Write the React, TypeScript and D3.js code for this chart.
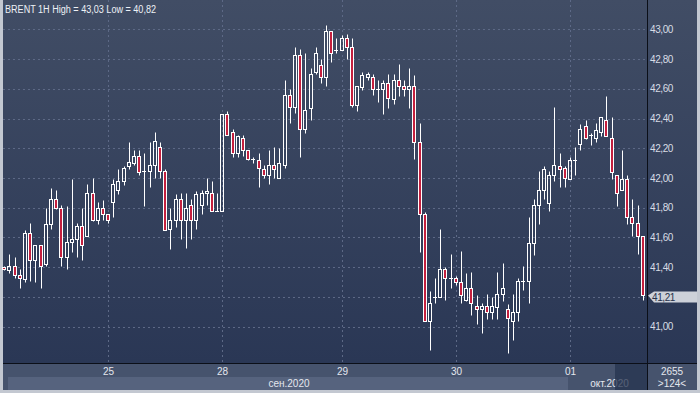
import React from 'react';
import * as d3 from 'd3';

// hourly BRENT candles (124 visible bars)
const opens = [
  41.40, 41.38, 41.41, 41.35, 41.32, 41.63, 41.45, 41.55, 41.42, 41.69,
  41.86, 41.80, 41.47, 41.57, 41.59, 41.68, 41.61, 41.90, 41.72, 41.80,
  41.76, 41.84, 41.92, 41.98, 42.08, 42.10, 42.15, 42.05, 42.05, 42.09,
  42.21, 42.05, 41.66, 41.72, 41.86, 41.72, 41.82, 41.72, 41.82, 41.90,
  41.90, 41.78, 41.78, 42.43, 42.31, 42.17, 42.27, 42.19, 42.13, 42.12,
  42.06, 42.02, 42.09, 42.00, 42.09, 42.56, 42.48, 42.83, 42.33, 42.47,
  42.71, 42.76, 42.68, 42.99, 42.86, 42.86, 42.94, 42.88, 42.49, 42.61,
  42.68, 42.68, 42.60, 42.60, 42.64, 42.53, 42.66, 42.62, 42.60, 42.62,
  42.24, 41.76, 41.04, 41.20, 41.20, 41.39, 41.33, 41.33, 41.30, 41.18,
  41.26, 41.14, 41.12, 41.14, 41.10, 41.13, 41.22, 41.12, 41.04, 41.10,
  41.31, 41.31, 41.56, 41.82, 41.92, 41.83, 42.02, 42.08, 42.07, 41.99,
  42.12, 42.23, 42.35, 42.29, 42.27, 42.31, 42.39, 42.27, 42.02, 41.92,
  41.99, 41.74, 41.70, 41.61,
];
const highs = [
  41.41, 41.49, 41.47, 41.39, 41.65, 41.70, 41.55, 41.55, 41.80, 41.93,
  41.92, 41.82, 41.81, 41.99, 41.70, 41.80, 41.96, 42.00, 41.84, 41.85,
  41.76, 41.99, 42.06, 42.08, 42.24, 42.19, 42.19, 42.17, 42.24, 42.31,
  42.24, 42.06, 41.80, 41.89, 41.90, 41.90, 41.86, 41.91, 41.92, 42.00,
  41.98, 41.90, 42.43, 42.45, 42.33, 42.29, 42.29, 42.19, 42.14, 42.17,
  42.09, 42.19, 42.21, 42.20, 42.66, 42.60, 42.88, 42.87, 42.84, 42.74,
  42.88, 42.80, 43.03, 42.99, 42.94, 42.96, 42.97, 42.94, 42.62, 42.71,
  42.71, 42.70, 42.66, 42.66, 42.70, 42.70, 42.77, 42.66, 42.74, 42.69,
  42.37, 41.77, 41.24, 41.33, 41.66, 41.40, 41.49, 41.34, 41.51, 41.36,
  41.37, 41.21, 41.16, 41.22, 41.20, 41.37, 41.43, 41.15, 41.22, 41.33,
  41.41, 41.74, 41.86, 42.05, 42.08, 42.05, 42.48, 42.17, 42.08, 42.14,
  42.21, 42.36, 42.39, 42.30, 42.37, 42.41, 42.55, 42.41, 42.02, 42.19,
  42.02, 41.86, 41.82, 41.61,
];
const lows = [
  41.38, 41.36, 41.33, 41.26, 41.30, 41.31, 41.30, 41.26, 41.41, 41.66,
  41.79, 41.41, 41.39, 41.50, 41.47, 41.45, 41.61, 41.71, 41.69, 41.72,
  41.70, 41.74, 41.89, 41.95, 42.06, 42.09, 42.02, 41.81, 41.94, 42.00,
  42.00, 41.65, 41.52, 41.67, 41.59, 41.53, 41.59, 41.66, 41.76, 41.82,
  41.78, 41.78, 41.78, 42.29, 42.14, 42.14, 42.15, 42.12, 42.10, 41.94,
  42.00, 41.96, 42.00, 42.00, 42.07, 42.37, 42.44, 42.14, 42.30, 42.39,
  42.70, 42.64, 42.62, 42.78, 42.84, 42.86, 42.80, 42.48, 42.45, 42.59,
  42.66, 42.56, 42.51, 42.43, 42.47, 42.50, 42.55, 42.55, 42.47, 42.13,
  41.50, 41.04, 40.84, 41.16, 41.20, 41.18, 41.26, 41.28, 41.16, 41.17,
  41.08, 41.02, 40.96, 41.05, 41.05, 41.05, 41.17, 40.82, 40.91, 41.04,
  41.25, 41.16, 41.48, 41.69, 41.86, 41.78, 41.98, 41.94, 41.94, 41.99,
  42.02, 42.19, 42.26, 42.22, 42.24, 42.28, 42.28, 41.99, 41.81, 41.92,
  41.69, 41.61, 41.49, 41.18,
];
const closes = [
  41.39, 41.41, 41.35, 41.33, 41.63, 41.45, 41.55, 41.41, 41.69, 41.86,
  41.80, 41.47, 41.57, 41.59, 41.68, 41.55, 41.90, 41.72, 41.80, 41.76,
  41.72, 41.96, 41.98, 42.07, 42.11, 42.15, 42.04, 42.05, 42.09, 42.25,
  42.05, 41.65, 41.72, 41.86, 41.72, 41.80, 41.72, 41.89, 41.90, 41.91,
  41.78, 41.78, 42.43, 42.29, 42.17, 42.28, 42.19, 42.13, 42.13, 42.07,
  42.02, 42.09, 42.06, 42.10, 42.56, 42.48, 42.83, 42.33, 42.46, 42.70,
  42.84, 42.68, 42.99, 42.84, 42.86, 42.94, 42.88, 42.49, 42.62, 42.69,
  42.70, 42.60, 42.60, 42.64, 42.54, 42.66, 42.62, 42.60, 42.62, 42.24,
  41.76, 41.04, 41.16, 41.20, 41.39, 41.33, 41.33, 41.30, 41.21, 41.26,
  41.16, 41.12, 41.14, 41.10, 41.14, 41.22, 41.26, 41.06, 41.10, 41.31,
  41.31, 41.56, 41.82, 41.92, 42.06, 42.02, 42.09, 42.06, 42.00, 42.12,
  42.12, 42.33, 42.27, 42.29, 42.32, 42.41, 42.28, 42.04, 41.90, 41.99,
  41.74, 41.70, 41.61, 41.21,
];

const priceTicks = [41.0, 41.2, 41.4, 41.6, 41.8, 42.0, 42.2, 42.4, 42.6, 42.8, 43.0];
const dayLabels = ['25', '28', '29', '30', '01'];
const dayBarIndex = [20, 42, 65, 87, 109];
const monthLabels = ['сен.2020', 'окт.2020'];
const title = 'BRENT 1H High = 43,03 Low = 40,82';
const lastPrice = '41,21';
const totalBars = '2655';
const shownBars = '>124<';

const FONT = '"Liberation Sans", Arial, sans-serif';
const RED = '#c41f3e';

const fmt = (v: number) => v.toFixed(2).replace('.', ',');
const px = (v: number) => Math.round(v) + 0.5;

export default function App() {
  const x = d3
    .scaleBand<number>()
    .domain(d3.range(opens.length))
    .range([1.7, 645.3]);
  const y = d3.scaleLinear().domain([41, 43]).range([326.7, 29.3]);
  const cx = (i: number) => Math.round((x(i) as number) + x.bandwidth() / 2);
  const lastY = y(closes[closes.length - 1]);

  return (
    <svg
      width={700}
      height={393}
      style={{ position: 'fixed', left: 0, top: 0 }}
      fontFamily={FONT}
    >
      <defs>
        <linearGradient id="bg" x1="0" y1="0" x2="0" y2="1">
          <stop offset="0" stopColor="#414d65" />
          <stop offset="1" stopColor="#2a3755" />
        </linearGradient>
      </defs>

      {/* frame */}
      <rect x={0} y={0} width={700} height={393} fill="#c3c8d1" />
      <rect x={3} y={0} width={694} height={363} fill="url(#bg)" />
      <rect x={3} y={363} width={694} height={27} fill="#46536d" />
      <rect x={8} y={377} width={560} height={13} fill="#56637e" />

      {/* grid */}
      {priceTicks.map((t) => (
        <line
          key={t}
          x1={3}
          x2={647}
          y1={px(y(t))}
          y2={px(y(t))}
          stroke="#5d6986"
          strokeDasharray="2,3"
        />
      ))}
      {dayBarIndex.map((i) => (
        <line
          key={i}
          x1={cx(i) + 0.5}
          x2={cx(i) + 0.5}
          y1={0}
          y2={363}
          stroke="#5d6986"
          strokeDasharray="2,3"
        />
      ))}

      {/* candles */}
      {opens.map((o, i) => {
        const c = closes[i];
        const xc = cx(i);
        const top = px(y(Math.max(o, c)));
        const bot = px(y(Math.min(o, c)));
        const hi = px(y(highs[i]));
        const lo = px(y(lows[i]));
        const down = c < o;
        return (
          <g key={i} stroke="#ffffff" strokeWidth={1}>
            {hi < top && <line x1={xc + 0.5} x2={xc + 0.5} y1={hi} y2={top} />}
            {lo > bot && <line x1={xc + 0.5} x2={xc + 0.5} y1={bot} y2={lo} />}
            {bot - top >= 1 ? (
              <rect
                x={xc - 1.5}
                y={top}
                width={3}
                height={bot - top}
                fill={down ? RED : 'none'}
              />
            ) : (
              <line x1={xc - 2} x2={xc + 2} y1={top} y2={top} />
            )}
          </g>
        );
      })}

      {/* title */}
      <text x={5} y={13} fontSize={10} fill="#eef1f6" textLength={151} lengthAdjust="spacingAndGlyphs">
        {title}
      </text>

      {/* price axis: the tick hidden under the last-price tag is skipped */}
      {priceTicks
        .filter((t) => Math.abs(y(t) - lastY) > 10)
        .map((t) => (
          <text
            key={t}
            x={650}
            y={y(t)}
            dy="0.35em"
            fontSize={10}
            letterSpacing={-0.4}
            fill="#d8dce5"
          >
            {fmt(t)}
          </text>
        ))}
      <polygon
        points={`648,${lastY} 654,291.5 697,291.5 697,302.5 654,302.5`}
        fill="#cdd1d9"
      />
      <text x={652} y={297} dy="0.35em" fontSize={10} letterSpacing={-0.4} fill="#26304a">
        {lastPrice}
      </text>

      {/* time axis */}
      {dayLabels.map((d, k) => (
        <text
          key={d}
          x={cx(dayBarIndex[k]) + 0.5}
          y={371.5}
          dy="0.35em"
          textAnchor="middle"
          fontSize={10}
          fill="#e4e7ee"
        >
          {d}
        </text>
      ))}
      <text x={289} y={383.5} dy="0.35em" textAnchor="middle" fontSize={10} fill="#e4e7ee">
        {monthLabels[0]}
      </text>
      <text x={609.5} y={383.5} dy="0.35em" textAnchor="middle" fontSize={10} fill="#e4e7ee">
        {monthLabels[1]}
      </text>
      <rect x={615} y={364} width={32} height={26} fill="#26334f" opacity={0.75} />

      {/* bar counters */}
      <text x={672} y={371} dy="0.35em" textAnchor="middle" fontSize={10} fill="#e4e7ee">
        {totalBars}
      </text>
      <text x={672} y={383.5} dy="0.35em" textAnchor="middle" fontSize={10} fill="#e4e7ee">
        {shownBars}
      </text>

      {/* separators */}
      <line x1={3} x2={697} y1={363.5} y2={363.5} stroke="#0b0f18" />
      <line x1={647.5} x2={647.5} y1={0} y2={390} stroke="#0b0f18" />
    </svg>
  );
}
